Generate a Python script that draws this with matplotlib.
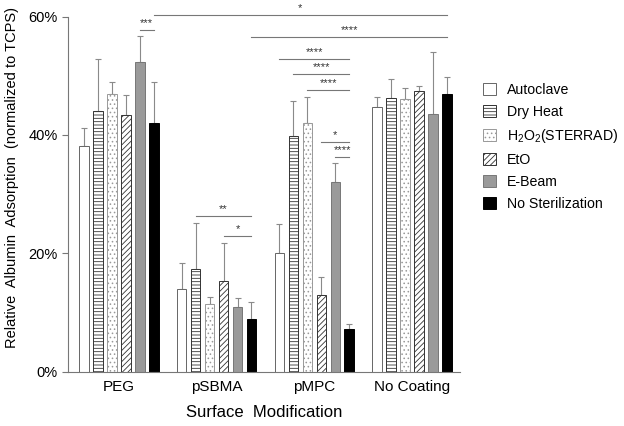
import numpy as np
import matplotlib
matplotlib.use("Agg")
from matplotlib import pyplot as plt

plt.rcParams['font.family'] = ['Liberation Sans', 'DejaVu Sans']
plt.rcParams['mathtext.fontset'] = 'custom'
plt.rcParams['mathtext.rm'] = 'Liberation Sans'
plt.rcParams['mathtext.default'] = 'regular'
plt.rcParams['hatch.linewidth'] = 0.6

groups = ['PEG', 'pSBMA', 'pMPC', 'No Coating']
methods = ['Autoclave', 'Dry Heat', 'H$_2$O$_2$(STERRAD)', 'EtO', 'E-Beam', 'No Sterilization']

# mean adsorption (%) per method, one value per group
autoclave = [38.1, 14.0, 20.1, 44.8]
dry_heat = [44.1, 17.4, 39.8, 46.2]
h2o2 = [46.9, 11.4, 42.1, 46.1]
eto = [43.3, 15.3, 13.0, 47.5]
ebeam = [52.3, 10.9, 32.0, 43.5]
no_ster = [42.1, 8.95, 7.2, 47.0]

# upper error (sd)
autoclave_err = [3.1, 4.3, 4.9, 1.6]
dry_heat_err = [8.7, 7.8, 5.9, 3.2]
h2o2_err = [2.0, 1.2, 4.3, 1.9]
eto_err = [3.5, 6.4, 3.0, 0.7]
ebeam_err = [4.5, 1.5, 3.2, 10.5]
no_ster_err = [6.8, 2.75, 0.8, 2.8]

means = [autoclave, dry_heat, h2o2, eto, ebeam, no_ster]
errs = [autoclave_err, dry_heat_err, h2o2_err, eto_err, ebeam_err, no_ster_err]
faces = ['white', 'white', 'white', 'white', '#9a9a9a', 'black']
edges = ['#666666', '#333333', '#999999', '#333333', '#777777', 'black']
hatches = [None, '-----', '....', '//////', None, None]

# significance brackets: (group1, method1, group2, method2, y, stars)
sig_g1 = [0, 0, 1, 1, 1, 2, 2, 2, 2, 2]
sig_m1 = [5, 4, 5, 1, 3, 0, 1, 2, 3, 4]
sig_g2 = [3, 0, 3, 1, 1, 2, 2, 2, 2, 2]
sig_m2 = [5, 5, 5, 5, 5, 5, 5, 5, 5, 5]
sig_y = [60.25, 57.8, 56.5, 26.3, 22.9, 52.9, 50.3, 47.6, 38.85, 36.3]
sig_txt = ['*', '***', '****', '**', '*', '****', '****', '****', '*', '****']

fig = plt.figure(figsize=(6.24, 4.26), dpi=100)
ax = fig.add_axes([0.109, 0.1275, 0.628, 0.8335])

x = np.arange(len(groups))
pitch = 0.143
width = 0.097
handles = []
for i in range(len(methods)):
    pos = x + (i - 2.5) * pitch
    b = ax.bar(pos, means[i], width, color=faces[i], edgecolor=edges[i],
               linewidth=0.7, hatch=hatches[i], label=methods[i], zorder=2)
    handles.append(b)
    ax.errorbar(pos, means[i], yerr=[np.zeros(len(groups)), errs[i]], fmt='none',
                ecolor='#8a8a8a', elinewidth=0.8, capsize=2.5, capthick=0.8, zorder=1)

for g1, m1, g2, m2, y, t in zip(sig_g1, sig_m1, sig_g2, sig_m2, sig_y, sig_txt):
    x1 = g1 + (m1 - 2.5) * pitch
    x2 = g2 + (m2 - 2.5) * pitch
    ax.plot([x1, x2], [y, y], color='#777777', lw=0.8, clip_on=False)
    ax.text((x1 + x2) / 2, y + 0.3, t, ha='center', va='bottom', fontsize=8,
            color='#333333', clip_on=False)

ax.set_xlim(-0.52, 3.49)
ax.set_ylim(0, 60)
ax.set_yticks([0, 20, 40, 60])
ax.set_yticklabels(['0%', '20%', '40%', '60%'], fontsize=10.5)
ax.set_xticks(x)
ax.set_xticklabels(groups, fontsize=11)
ax.tick_params(axis='x', length=0, pad=6)
ax.tick_params(axis='y', length=4, color='#777777')
for s in ['top', 'right']:
    ax.spines[s].set_visible(False)
for s in ['left', 'bottom']:
    ax.spines[s].set_color('#777777')
ax.set_ylabel('Relative  Albumin  Adsorption  (normalized to TCPS)', fontsize=10.5)
ax.yaxis.set_label_coords(-0.125, 0.548)
ax.set_xlabel('Surface  Modification', fontsize=12, labelpad=8)

fig.legend(handles=handles, loc='upper left', bbox_to_anchor=(0.765, 0.818),
           frameon=False, fontsize=10.2, handlelength=0.95, handleheight=0.95,
           labelspacing=0.56, handletextpad=0.75, borderaxespad=0)

fig.savefig('out.png', dpi=100)
